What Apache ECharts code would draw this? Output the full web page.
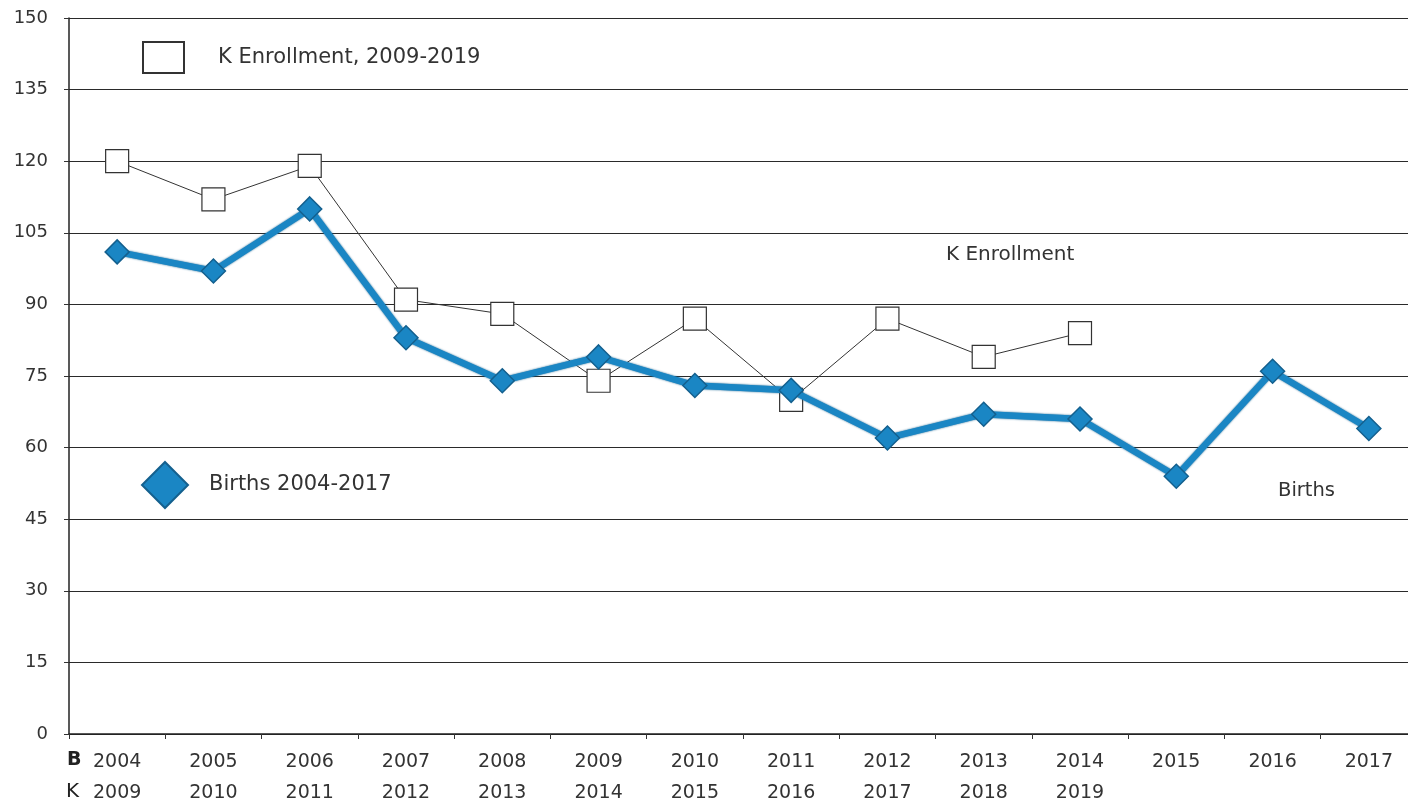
<!DOCTYPE html>
<html><head><meta charset="utf-8">
<script src="https://cdn.jsdelivr.net/npm/echarts@6/dist/echarts.min.js"></script>
<style>html,body{margin:0;padding:0;background:#fff}#c{width:1408px;height:807px}</style>
</head><body><div id="c"></div>
<script>
const birthYears = ['2004','2005','2006','2007','2008','2009','2010','2011','2012','2013','2014','2015','2016','2017'];
const kYears = ['2009','2010','2011','2012','2013','2014','2015','2016','2017','2018','2019','','',''];
const births = [101, 97, 110, 83, 74, 79, 73, 72, 62, 67, 66, 54, 76, 64];
const kEnroll = [120, 112, 119, 91, 88, 74, 87, 70, 87, 79, 84, null, null, null];
const yTicks = [0, 15, 30, 45, 60, 75, 90, 105, 120, 135, 150];

const chart = echarts.init(document.getElementById('c'));
const font = 'DejaVu Sans, sans-serif';
chart.setOption({
  animation: false,
  grid: { left: 69, right: -9, top: 18, bottom: 73, containLabel: false, outerBoundsMode: 'none' },
  xAxis: {
    type: 'category', data: birthYears, boundaryGap: true,
    axisLine: { lineStyle: { color: '#222', width: 1.5 } },
    axisTick: { show: true, length: 5, lineStyle: { color: '#333' } },
    axisLabel: {
      margin: 13, color: '#333', fontFamily: font, fontSize: 19, lineHeight: 31,
      formatter: (v, i) => v + '\n' + (kYears[i] || ' ')
    }
  },
  yAxis: {
    type: 'value', min: yTicks[0], max: yTicks[yTicks.length - 1], interval: 15,
    axisLine: { show: true, lineStyle: { color: '#222', width: 1.5 } },
    axisTick: { show: true, length: 5, lineStyle: { color: '#333' } },
    axisLabel: { margin: 21, color: '#333', fontFamily: font, fontSize: 18 },
    splitLine: { lineStyle: { color: '#2a2a2a', width: 1.2 } }
  },
  legend: [
    { left: 137, top: 36, itemWidth: 41, itemHeight: 31, data: [{ name: 'K Enrollment, 2009-2019', icon: 'rect' }],
      textStyle: { fontFamily: font, fontSize: 21, color: '#333', padding: [10,0,0,29] } },
    { left: 136, top: 456, itemWidth: 46, itemHeight: 46, data: [{ name: 'Births 2004-2017', icon: 'diamond' }],
      textStyle: { fontFamily: font, fontSize: 21, color: '#333', padding: [2,0,0,16] } }
  ],
  graphic: [
    { type: 'text', left: 946, top: 245, style: { text: 'K Enrollment', fontFamily: font, fontSize: 20, fill: '#333' } },
    { type: 'text', left: 1278, top: 481, style: { text: 'Births', fontFamily: font, fontSize: 19.5, fill: '#333' } },
    { type: 'text', left: 67, top: 751, style: { text: 'B', fontFamily: font, fontSize: 19, fontWeight: 'bold', fill: '#222' } },
    { type: 'text', left: 66, top: 782, style: { text: 'K', fontFamily: font, fontSize: 20, fill: '#222' } }
  ],
  series: [
    {
      name: 'Births 2004-2017', type: 'line', data: births, z: 3,
      symbol: 'diamond', symbolSize: 24,
      lineStyle: { color: '#1a86c4', width: 6.5, shadowColor: '#15618f', shadowBlur: 2 },
      itemStyle: { color: '#1a86c4', borderColor: '#14608e', borderWidth: 1.5 }
    },
    {
      name: 'K Enrollment, 2009-2019', type: 'line', data: kEnroll, z: 2,
      symbol: 'rect', symbolSize: 23,
      lineStyle: { color: '#333', width: 1 },
      itemStyle: { color: '#fff', borderColor: '#333', borderWidth: 1.2 }
    }
  ]
});
</script></body></html>
